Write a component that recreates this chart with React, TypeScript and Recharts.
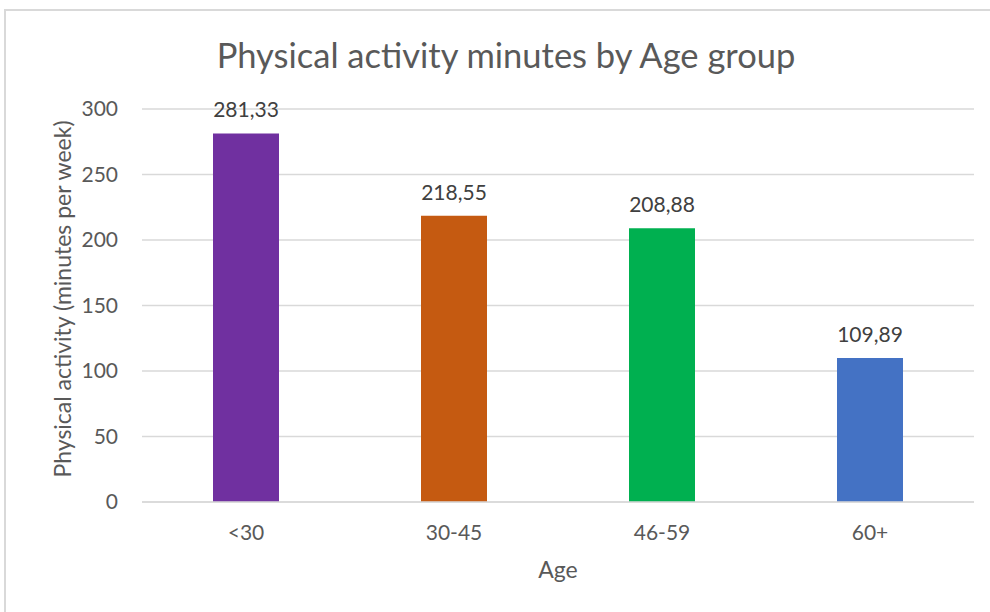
import React from 'react';
import { BarChart, Bar, XAxis, YAxis, CartesianGrid, Cell, LabelList } from 'recharts';

const ageGroups = ['<30', '30-45', '46-59', '60+'];
const minutes = [281.33, 218.55, 208.88, 109.89];
const barColors = ['#7030A0', '#C55A11', '#00B050', '#4472C4'];
const yTicks = [0, 50, 100, 150, 200, 250, 300];

const data = ageGroups.map((age, i) => ({ age, value: minutes[i] }));

const FONT = 'Lato, "Open Sans", sans-serif';

const YTitle = () => (
  <text
    x={62}
    y={299}
    transform="rotate(-90 62 299)"
    textAnchor="middle"
    dominantBaseline="central"
    fill="#595959"
    fontSize={23}
    fontFamily={FONT}
  >
    Physical activity (minutes per week)
  </text>
);

export default function App() {
  return (
    <div style={{ position: 'absolute', left: 0, top: 0, width: 990, height: 612, overflow: 'hidden', background: '#fff', fontFamily: FONT }}>
      <div style={{ position: 'absolute', left: 4, top: 9, width: 1020, height: 700, border: '2px solid #D9D9D9', boxSizing: 'border-box' }} />
      <div style={{ position: 'absolute', left: 0, top: 34, width: 1012, textAlign: 'center', fontSize: 34.5, color: '#595959', lineHeight: '42px' }}>
        Physical activity minutes by Age group
      </div>
      <div style={{ position: 'absolute', left: 0, top: 0 }}>
        <BarChart width={990} height={612} data={data} margin={{ top: 109, right: 16, bottom: 50, left: 42 }}>
          <CartesianGrid vertical={false} stroke="#D9D9D9" strokeWidth={1.3} />
          <XAxis
            dataKey="age"
            height={60}
            axisLine={{ stroke: '#D9D9D9', strokeWidth: 1.5 }}
            tickLine={false}
            tickSize={0}
            tickMargin={23}
            tick={{ fill: '#595959', fontSize: 21, fontFamily: FONT }}
            label={{ value: 'Age', position: 'bottom', offset: 0, fill: '#595959', fontSize: 23, fontFamily: FONT }}
          />
          <YAxis
            width={100}
            domain={[0, 300]}
            ticks={yTicks}
            axisLine={false}
            tickLine={false}
            tickSize={0}
            tickMargin={24}
            tick={{ fill: '#595959', fontSize: 21, fontFamily: FONT }}
            label={<YTitle />}
          />
          <Bar dataKey="value" barSize={66} isAnimationActive={false}>
            {data.map((d, i) => (
              <Cell key={d.age} fill={barColors[i]} />
            ))}
            <LabelList
              dataKey="value"
              position="top"
              offset={16}
              fill="#404040"
              fontSize={21}
              fontFamily={FONT}
              formatter={(v: any) => Number(v).toFixed(2).replace('.', ',')}
            />
          </Bar>
        </BarChart>
      </div>
    </div>
  );
}
